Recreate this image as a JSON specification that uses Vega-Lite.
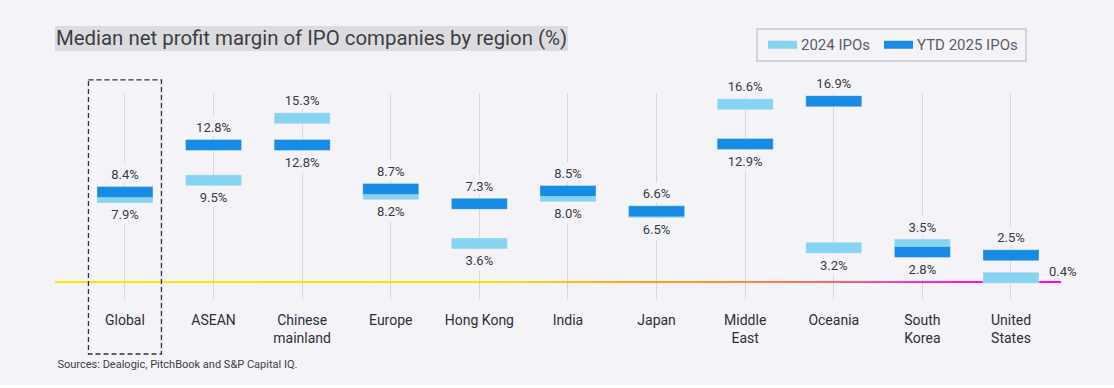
{
  "$schema": "https://vega.github.io/schema/vega-lite/v6.json",
  "background": "#f4f4f8",
  "padding": {"left": 55, "top": 26, "right": 37, "bottom": 16},
  "autosize": {"type": "pad"},
  "spacing": 42,
  "bounds": "flush",
  "config": {
    "view": {"stroke": null},
    "font": "Roboto",
    "legend": {"strokeWidth": 1.5}
  },
  "vconcat": [
    {
      "width": 513,
      "height": 25,
      "view": {"fill": "#dcdcde", "stroke": null},
      "data": {"values": [{"t": "Median net profit margin of IPO companies by region (%)"}]},
      "mark": {"type": "text", "fontSize": 20.4, "color": "#3c3c46", "font": "Roboto", "baseline": "middle", "align": "center"},
      "encoding": {"text": {"field": "t"}}
    },
    {
      "width": 1006,
      "height": 206,
      "data": {
        "values": [
          {"region": "Global", "series": "2024 IPOs", "value": 7.9},
          {"region": "ASEAN", "series": "2024 IPOs", "value": 9.5},
          {"region": "Chinese mainland", "series": "2024 IPOs", "value": 15.3},
          {"region": "Europe", "series": "2024 IPOs", "value": 8.2},
          {"region": "Hong Kong", "series": "2024 IPOs", "value": 3.6},
          {"region": "India", "series": "2024 IPOs", "value": 8.0},
          {"region": "Japan", "series": "2024 IPOs", "value": 6.5},
          {"region": "Middle East", "series": "2024 IPOs", "value": 16.6},
          {"region": "Oceania", "series": "2024 IPOs", "value": 3.2},
          {"region": "South Korea", "series": "2024 IPOs", "value": 3.5},
          {"region": "United States", "series": "2024 IPOs", "value": 0.4},
          {"region": "Global", "series": "YTD 2025 IPOs", "value": 8.4},
          {"region": "ASEAN", "series": "YTD 2025 IPOs", "value": 12.8},
          {"region": "Chinese mainland", "series": "YTD 2025 IPOs", "value": 12.8},
          {"region": "Europe", "series": "YTD 2025 IPOs", "value": 8.7},
          {"region": "Hong Kong", "series": "YTD 2025 IPOs", "value": 7.3},
          {"region": "India", "series": "YTD 2025 IPOs", "value": 8.5},
          {"region": "Japan", "series": "YTD 2025 IPOs", "value": 6.6},
          {"region": "Middle East", "series": "YTD 2025 IPOs", "value": 12.9},
          {"region": "Oceania", "series": "YTD 2025 IPOs", "value": 16.9},
          {"region": "South Korea", "series": "YTD 2025 IPOs", "value": 2.8},
          {"region": "United States", "series": "YTD 2025 IPOs", "value": 2.5}
        ]
      },
      "layer": [
        {
          "data": {"values": [{"lo": -0.1, "hi": 0.1}]},
          "mark": {
            "type": "rect",
            "stroke": null,
            "fill": {
              "gradient": "linear", "x1": 0, "y1": 0, "x2": 1, "y2": 0,
              "stops": [
                {"offset": 0, "color": "#FFE600"},
                {"offset": 0.44, "color": "#FFE000"},
                {"offset": 0.58, "color": "#FFA21E"},
                {"offset": 0.68, "color": "#FF8A2C"},
                {"offset": 0.76, "color": "#FF6A5E"},
                {"offset": 0.84, "color": "#FF3FB0"},
                {"offset": 0.9, "color": "#FF10EA"},
                {"offset": 1, "color": "#FF00FF"}
              ]
            }
          },
          "encoding": {
            "y": {"field": "lo", "type": "quantitative", "scale": {"domain": [-1.59, 17.66], "nice": false, "zero": false}, "axis": null},
            "y2": {"field": "hi"}
          }
        },
        {
          "transform": [
            {"joinaggregate": [{"op": "max", "field": "value", "as": "hi"}], "groupby": ["region"]},
            {"filter": "datum.value == datum.hi"}
          ],
          "mark": {"type": "point", "shape": "square", "size": 400, "filled": true, "opacity": 1, "color": "#f4f4f8", "yOffset": -19},
          "encoding": {
            "x": {"field": "region", "type": "nominal"},
            "y": {"field": "value", "type": "quantitative"}
          }
        },
        {
          "transform": [
            {"joinaggregate": [{"op": "min", "field": "value", "as": "lo"}], "groupby": ["region"]},
            {"filter": "datum.value == datum.lo && datum.value >= 1"}
          ],
          "mark": {"type": "point", "shape": "square", "size": 440, "filled": true, "opacity": 1, "color": "#f4f4f8", "yOffset": 17},
          "encoding": {
            "x": {"field": "region", "type": "nominal"},
            "y": {"field": "value", "type": "quantitative"}
          }
        },
        {
          "mark": {"type": "tick", "size": 56, "thickness": 11, "opacity": 1, "stroke": "#ffffff", "strokeOpacity": 0.3, "strokeWidth": 1},
          "encoding": {
            "x": {
              "field": "region", "type": "nominal",
              "scale": {
                "type": "band",
                "domain": ["Global", "ASEAN", "Chinese mainland", "Europe", "Hong Kong", "India", "Japan", "Middle East", "Oceania", "South Korea", "United States"],
                "paddingInner": 0, "paddingOuter": 0.177, "align": 0.818
              },
              "axis": {
                "orient": "bottom",
                "domain": false,
                "ticks": false,
                "grid": true,
                "bandPosition": 0.5,
                "gridColor": "#d6d6de",
                "gridWidth": 1,
                "labelAngle": 0,
                "labelAlign": "center",
                "labelFont": "Roboto",
                "labelFontSize": 14,
                "labelColor": "#2e2e38",
                "labelPadding": 21,
                "labelLineHeight": 18,
                "labelExpr": "datum.label == 'Hong Kong' ? datum.label : split(datum.label, ' ')",
                "title": "Sources: Dealogic, PitchBook and S&P Capital IQ.",
                "titleAnchor": "start",
                "titleAlign": "left",
                "titleBaseline": "middle",
                "titleFont": "Roboto",
                "titleFontSize": 11,
                "titleFontWeight": "normal",
                "titleColor": "#3c3c46",
                "titleX": 2,
                "titleY": 65
              }
            },
            "y": {"field": "value", "type": "quantitative"},
            "color": {
              "field": "series", "type": "nominal",
              "scale": {"domain": ["2024 IPOs", "YTD 2025 IPOs"], "range": ["#87D3F2", "#188CE5"]},
              "legend": {
                "title": null,
                "orient": "none",
                "legendX": 702,
                "legendY": 3,
                "direction": "horizontal",
                "strokeColor": "#c8c8d2",
                "padding": 8,
                "symbolType": "M-1.933,-0.533H1.933V0.533H-1.933Z",
                "symbolSize": 225,
                "symbolOffset": 10,
                "symbolStrokeWidth": 0,
                "labelFont": "Roboto",
                "labelFontSize": 15,
                "labelColor": "#5c5c6a",
                "labelOffset": 11,
                "columnPadding": 10
              }
            }
          }
        },
        {
          "transform": [
            {"joinaggregate": [{"op": "max", "field": "value", "as": "hi"}], "groupby": ["region"]},
            {"filter": "datum.value == datum.hi"}
          ],
          "mark": {"type": "text", "fontSize": 13, "color": "#3a3a44", "baseline": "middle", "yOffset": -17, "text": {"expr": "format(datum.value, '.1f') + '%'"}},
          "encoding": {
            "x": {"field": "region", "type": "nominal"},
            "y": {"field": "value", "type": "quantitative"}
          }
        },
        {
          "transform": [
            {"joinaggregate": [{"op": "min", "field": "value", "as": "lo"}], "groupby": ["region"]},
            {"filter": "datum.value == datum.lo && datum.value >= 1"}
          ],
          "mark": {"type": "text", "fontSize": 13, "color": "#3a3a44", "baseline": "middle", "yOffset": 18, "text": {"expr": "format(datum.value, '.1f') + '%'"}},
          "encoding": {
            "x": {"field": "region", "type": "nominal"},
            "y": {"field": "value", "type": "quantitative"}
          }
        },
        {
          "transform": [
            {"joinaggregate": [{"op": "min", "field": "value", "as": "lo"}], "groupby": ["region"]},
            {"filter": "datum.value == datum.lo && datum.value < 1"}
          ],
          "mark": {"type": "text", "fontSize": 13, "color": "#3a3a44", "baseline": "middle", "align": "left", "xOffset": 38, "yOffset": -6, "text": {"expr": "format(datum.value, '.1f') + '%'"}},
          "encoding": {
            "x": {"field": "region", "type": "nominal"},
            "y": {"field": "value", "type": "quantitative"}
          }
        },
        {
          "transform": [{"filter": "datum.region == 'Global' && datum.series == '2024 IPOs'"}],
          "mark": {"type": "bar", "width": 73, "fill": null, "fillOpacity": 0, "stroke": "#2e2e38", "strokeWidth": 1.3, "strokeDash": [5, 3]},
          "encoding": {
            "x": {"field": "region", "type": "nominal"},
            "y": {"datum": 18.88, "type": "quantitative"},
            "y2": {"datum": -6.73}
          }
        }
      ]
    }
  ]
}
